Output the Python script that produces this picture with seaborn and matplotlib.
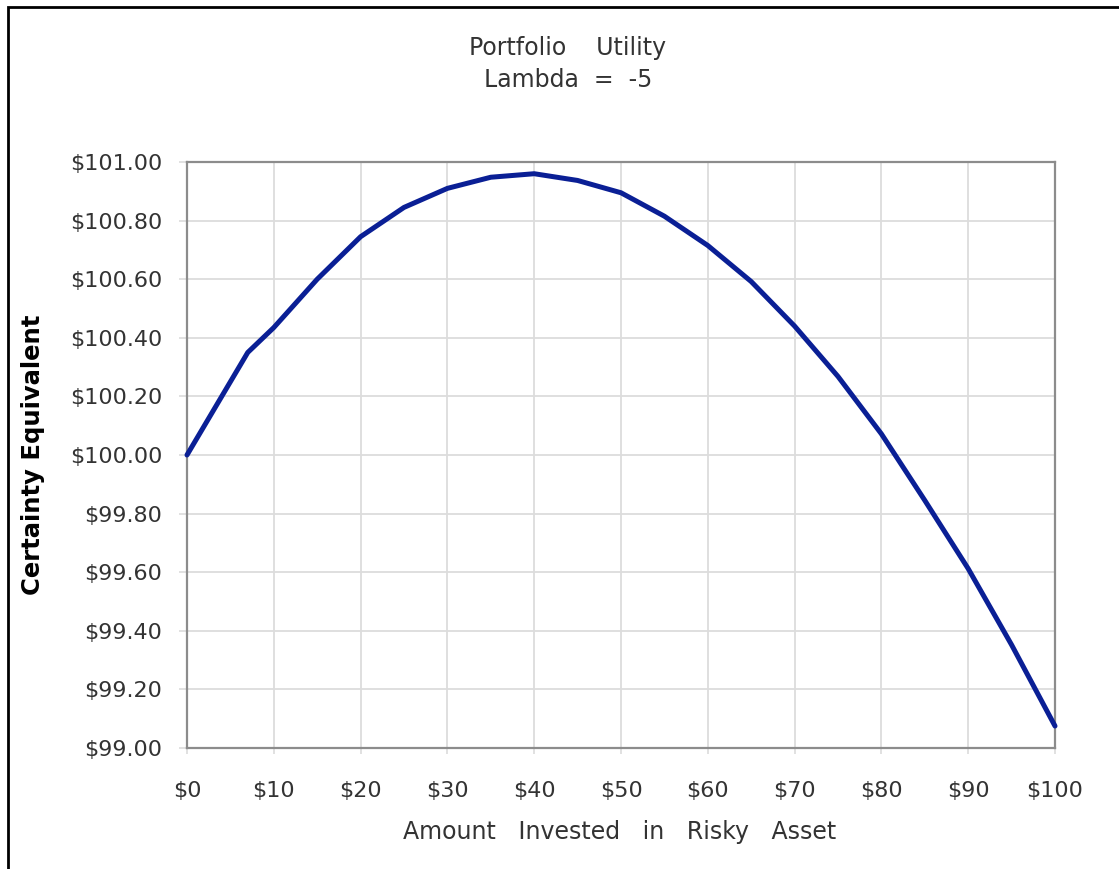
"""
Portfolio utility chart (certainty equivalent vs amount in risky asset)
"""

import numpy as np
import pandas as pd
import matplotlib
matplotlib.use('Agg')
import matplotlib.pyplot as plt
from matplotlib.patches import Rectangle
import seaborn as sns

"""
Data (read off the reference)
"""
amount_invested = [0, 7, 10, 15, 20, 25, 30, 35, 40, 45, 50,
                   55, 60, 65, 70, 75, 80, 85, 90, 95, 100]
certainty_equiv = [100.00, 100.35, 100.435, 100.600, 100.745, 100.845, 100.91,
                   100.948, 100.96, 100.937, 100.895, 100.815, 100.715, 100.592,
                   100.44, 100.268, 100.072, 99.845, 99.612, 99.352, 99.075]

x_ticks = list(range(0, 101, 10))
x_tick_labels = [f'${v}' for v in x_ticks]
y_ticks = [99.0, 99.2, 99.4, 99.6, 99.8, 100.0, 100.2, 100.4, 100.6, 100.8, 101.0]
y_tick_labels = [f'${v:.2f}' for v in y_ticks]

title_lines = ['Portfolio    Utility', 'Lambda  =  -5']
x_label = 'Amount   Invested   in   Risky   Asset'
y_label = 'Certainty Equivalent'

LINE_COLOR = '#0a1f95'
GRID_COLOR = '#dcdcdc'
SPINE_COLOR = '#8c8c8c'
TEXT_COLOR = '#333333'


def main():
    sns.set_style('white')
    plt.rcParams['font.family'] = ['DejaVu Sans']

    df = pd.DataFrame({'amount': amount_invested, 'ce': certainty_equiv})

    fig = plt.figure(figsize=(11.19, 8.69), dpi=100)
    ax = fig.add_axes([187 / 1119, 1 - 748 / 869, (1055 - 187) / 1119, (748 - 162) / 869])

    line = sns.lineplot(data=df, x='amount', y='ce', ax=ax, color=LINE_COLOR,
                        linewidth=3.6, zorder=3)
    for ln in ax.get_lines():
        ln.set_solid_joinstyle('round')
        ln.set_solid_capstyle('round')
        ln.set_clip_on(False)

    ax.set_xlim(0, 100)
    ax.set_ylim(99.0, 101.0)
    ax.set_xticks(x_ticks)
    ax.set_xticklabels(x_tick_labels)
    ax.set_yticks(y_ticks)
    ax.set_yticklabels(y_tick_labels)

    ax.grid(True, color=GRID_COLOR, linewidth=1.3, zorder=0)
    ax.set_axisbelow(True)
    for side in ['left', 'right', 'top', 'bottom']:
        ax.spines[side].set_visible(True)
        ax.spines[side].set_color(SPINE_COLOR)
        ax.spines[side].set_linewidth(1.6)

    ax.tick_params(axis='y', direction='out', length=6, width=1.2, color=GRID_COLOR,
                   labelsize=16, labelcolor=TEXT_COLOR, pad=12, left=True)
    ax.tick_params(axis='x', direction='out', length=4, width=1.2, color=GRID_COLOR,
                   labelsize=16, labelcolor=TEXT_COLOR, pad=20, bottom=True)

    ax.set_xlabel('')
    ax.set_ylabel('')

    fig.text(568 / 1119, 1 - 48 / 869, title_lines[0], ha='center', va='center',
             fontsize=17, color=TEXT_COLOR)
    fig.text(568 / 1119, 1 - 80 / 869, title_lines[1], ha='center', va='center',
             fontsize=17, color=TEXT_COLOR)
    fig.text(620 / 1119, 1 - 832 / 869, x_label, ha='center', va='center',
             fontsize=17, color=TEXT_COLOR)
    fig.text(33 / 1119, 1 - 455 / 869, y_label, ha='center', va='center',
             rotation=90, fontsize=17.5, fontweight='bold', color='black')

    # outer frame (cut off at right and bottom in the reference)
    fig.patches.append(Rectangle((8 / 1119, -0.1), 1.2, 1 - 7 / 869 + 0.1,
                                 transform=fig.transFigure, fill=False,
                                 edgecolor='black', linewidth=2))

    fig.savefig('out.png', dpi=100)
    plt.close(fig)


if __name__ == '__main__':
    main()
